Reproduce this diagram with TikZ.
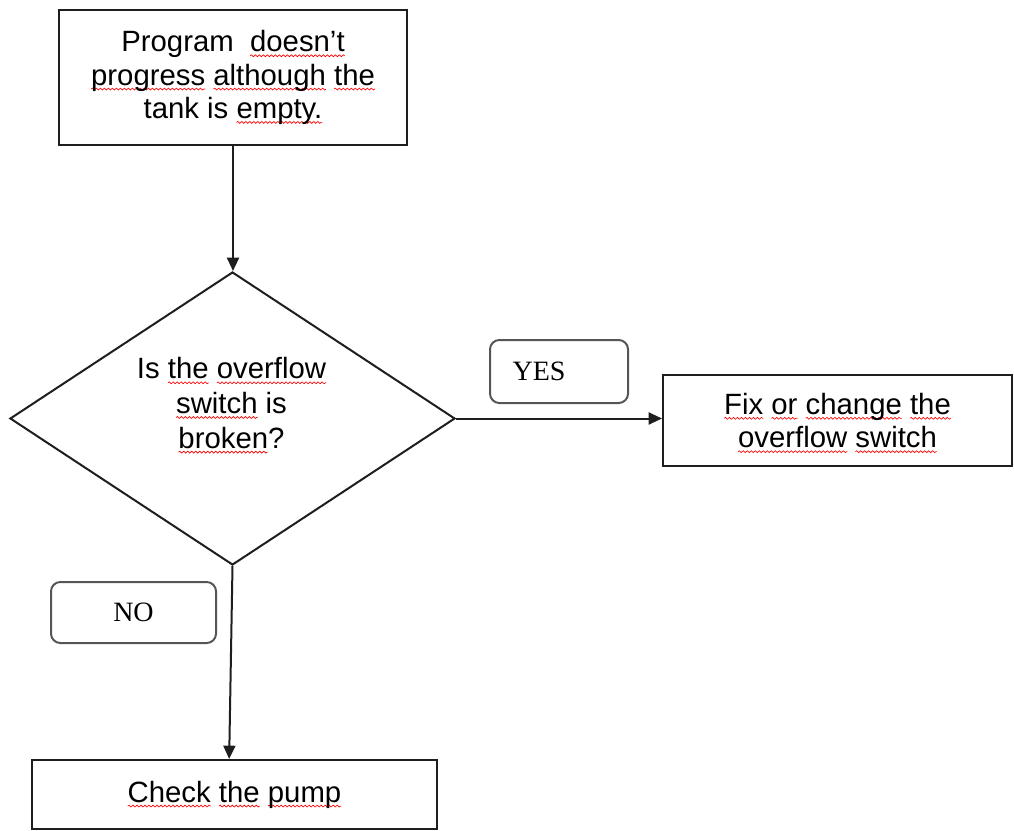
\documentclass[tikz,border=0pt]{standalone}
\usepackage{fontspec}
\setmainfont{Liberation Sans}
\newfontfamily\tagfont{Liberation Serif}
\usetikzlibrary{shapes.geometric,arrows.meta,decorations.pathmorphing}

\definecolor{edge}{HTML}{1E1E1E}
\definecolor{tagedge}{HTML}{555555}

% red wavy underline under a word
\newsavebox\sqbox
\newcommand\sq[1]{\sbox\sqbox{#1}\leavevmode
  \tikz[overlay,baseline=0pt]\draw[red,line width=0.5pt,decorate,
    decoration={snake,segment length=3pt,amplitude=0.7pt}]
    (0pt,-3pt) -- (\the\wd\sqbox,-3pt);%
  \usebox\sqbox}

\begin{document}
\begin{tikzpicture}[x=0.75pt,y=-0.75pt,
  box/.style={draw=edge,line width=1.5pt,rectangle,align=center,
    font=\fontsize{22}{25}\selectfont},
  decision/.style={draw=edge,line width=1.5pt,diamond,inner sep=0pt},
  tag/.style={draw=tagedge,line width=1.5pt,rounded corners=7pt,
    font=\tagfont\fontsize{21}{24}\selectfont},
  arr/.style={draw=edge,line width=1.5pt,-{Triangle[length=10pt,width=9pt]}}]

  \useasboundingbox (0,0) rectangle (1014,831);

  \node[box,minimum width=261pt,minimum height=101.25pt] (prob) at (233,77.5)
    {Program\ \ \sq{doesn’t}\\ \sq{progress} \sq{although} \sq{the}\\ tank is \sq{empty.}};

  \node[decision,minimum width=333.75pt,minimum height=219.75pt] (dec) at (232.5,418.5) {};
  \node[align=center,font=\fontsize{22}{26}\selectfont] (question) at (231.5,403)
    {Is \sq{the} \sq{overflow}\\ \sq{switch} is\\ \sq{broken}?};

  \node[box,minimum width=261.75pt,minimum height=68.25pt] (fix) at (837.5,420.5)
    {\sq{Fix} \sq{or} \sq{change} \sq{the}\\ \sq{overflow} \sq{switch}};

  \node[box,minimum width=303.75pt,minimum height=51.75pt] (pump) at (234.5,794.5)
    {\sq{Check} \sq{the} \sq{pump}};

  \node[tag,minimum height=47.25pt,text width=69.5pt,inner xsep=17pt,align=left] (yes)
    at (559,371.5) {YES};
  \node[tag,minimum width=123.75pt,minimum height=45.75pt] (no) at (133.5,612.5) {NO};

  \draw[arr] (prob.south) -- (prob.south |- dec.north);
  \draw[arr] (dec.east) -- (dec.east -| fix.west);
  \draw[arr] (dec.south) -- ([xshift=-4pt]pump.north);
\end{tikzpicture}
\end{document}
